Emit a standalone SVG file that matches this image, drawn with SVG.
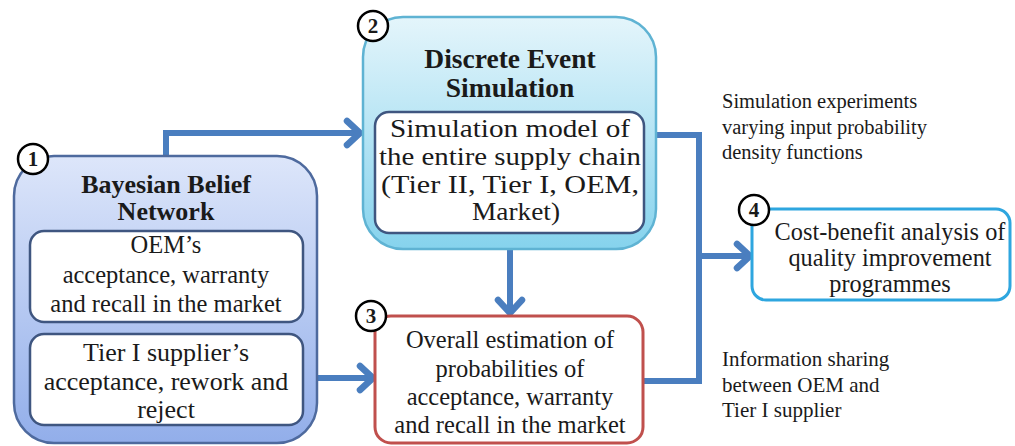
<svg xmlns="http://www.w3.org/2000/svg" width="1015" height="446" viewBox="0 0 1015 446">
<defs>
<linearGradient id="g1" x1="0" y1="0" x2="0" y2="1">
<stop offset="0" stop-color="#dde6fa"/>
<stop offset="1" stop-color="#92aeea"/>
</linearGradient>
<linearGradient id="g2" x1="0" y1="0" x2="0" y2="1">
<stop offset="0" stop-color="#e4f5fb"/>
<stop offset="1" stop-color="#86d3ed"/>
</linearGradient>
<style>
text{font-family:"Liberation Serif","Times New Roman",serif;fill:#1a1a1a}
.t{font-size:24.5px;text-anchor:middle}
.h{font-size:26px;font-weight:bold;text-anchor:middle}
.n{font-size:20.5px}
.s{font-size:25.5px;text-anchor:middle}
.inner{fill:#fff;stroke:#3f5680;stroke-width:2.5}
.num{fill:#fff;stroke:#000;stroke-width:2.5}
.numt{font-size:21px;font-weight:bold;text-anchor:middle}
.c{fill:none;stroke:#4a7ebf;stroke-width:6;stroke-linejoin:miter}
.ah{fill:none;stroke:#4a7ebf;stroke-width:6.5;stroke-linecap:round}
</style>
</defs>
<rect width="1015" height="446" fill="#fff"/>
<g id="connectors">
<polyline class="c" points="166,157 166,133 360,133"/>
<polyline class="ah" points="347,121 360,133 347,145"/>
<polyline class="c" points="303,378 373,378"/>
<polyline class="ah" points="360,366 373,378 360,390"/>
<polyline class="c" points="510,250 510,313"/>
<polyline class="ah" points="498,300 510,313 522,300"/>
<polyline class="c" points="655,135 699,135 699,381 643,381"/>
<polyline class="c" points="699,256 750,256"/>
<polyline class="ah" points="737,244 750,256 737,268"/>
</g>
<g id="node1">
<rect x="14" y="156" width="303" height="287" rx="40" fill="url(#g1)" stroke="#4e6a9e" stroke-width="2.5"/>
<text class="h" x="166" y="193">Bayesian Belief</text>
<text class="h" x="166" y="220">Network</text>
<rect class="inner" x="30" y="231" width="273" height="91" rx="14"/>
<text class="t" x="166" y="253">OEM’s</text>
<text class="t" x="166" y="283">acceptance, warranty</text>
<text class="t" x="166" y="312">and recall in the market</text>
<rect class="inner" x="30" y="334" width="273" height="91" rx="14"/>
<text class="t" x="166" y="361" style="font-size:26px">Tier I supplier’s</text>
<text class="t" x="166" y="390" style="font-size:26px">acceptance, rework and</text>
<text class="t" x="166" y="418" style="font-size:26px">reject</text>
<circle class="num" cx="33" cy="159" r="15"/>
<text class="numt" x="33" y="166">1</text>
</g>
<g id="node2">
<rect x="363" y="17" width="293" height="232" rx="40" fill="url(#g2)" stroke="#5fb3d3" stroke-width="2.5"/>
<text class="h" x="510" y="68" style="font-size:27.5px">Discrete Event</text>
<text class="h" x="510" y="97" style="font-size:27.5px">Simulation</text>
<rect class="inner" x="375" y="112" width="269" height="121" rx="14"/>
<text class="s" x="510" y="137" textLength="240" lengthAdjust="spacingAndGlyphs">Simulation model of</text>
<text class="s" x="510" y="165" textLength="262" lengthAdjust="spacingAndGlyphs">the entire supply chain</text>
<text class="s" x="510" y="193" textLength="258" lengthAdjust="spacingAndGlyphs">(Tier II, Tier I, OEM,</text>
<text class="s" x="516" y="220" textLength="88" lengthAdjust="spacingAndGlyphs">Market)</text>
<circle class="num" cx="373" cy="26" r="15"/>
<text class="numt" x="373" y="33">2</text>
</g>
<g id="node3">
<rect x="375" y="316" width="268" height="127" rx="16" fill="#fff" stroke="#c0504d" stroke-width="3"/>
<text class="t" x="510" y="348">Overall estimation of</text>
<text class="t" x="510" y="377">probabilities of</text>
<text class="t" x="510" y="405">acceptance, warranty</text>
<text class="t" x="510" y="433">and recall in the market</text>
<circle class="num" cx="371" cy="316" r="15"/>
<text class="numt" x="371" y="323">3</text>
</g>
<g id="node4">
<rect x="752" y="209" width="258" height="91" rx="14" fill="#fff" stroke="#2ea6df" stroke-width="3"/>
<text class="t" x="890" y="240" style="font-size:24.3px">Cost-benefit analysis of</text>
<text class="t" x="890" y="266" style="font-size:24.3px">quality improvement</text>
<text class="t" x="890" y="292" style="font-size:24.3px">programmes</text>
<circle class="num" cx="754" cy="210" r="15"/>
<text class="numt" x="754" y="217">4</text>
</g>
<g id="labels">
<text class="n" x="722" y="108">Simulation experiments</text>
<text class="n" x="722" y="134">varying input probability</text>
<text class="n" x="722" y="159">density functions</text>
<text class="n" x="722" y="366" style="font-size:21px">Information sharing</text>
<text class="n" x="722" y="392" style="font-size:21px">between OEM and</text>
<text class="n" x="722" y="417" style="font-size:21px">Tier I supplier</text>
</g>
</svg>
